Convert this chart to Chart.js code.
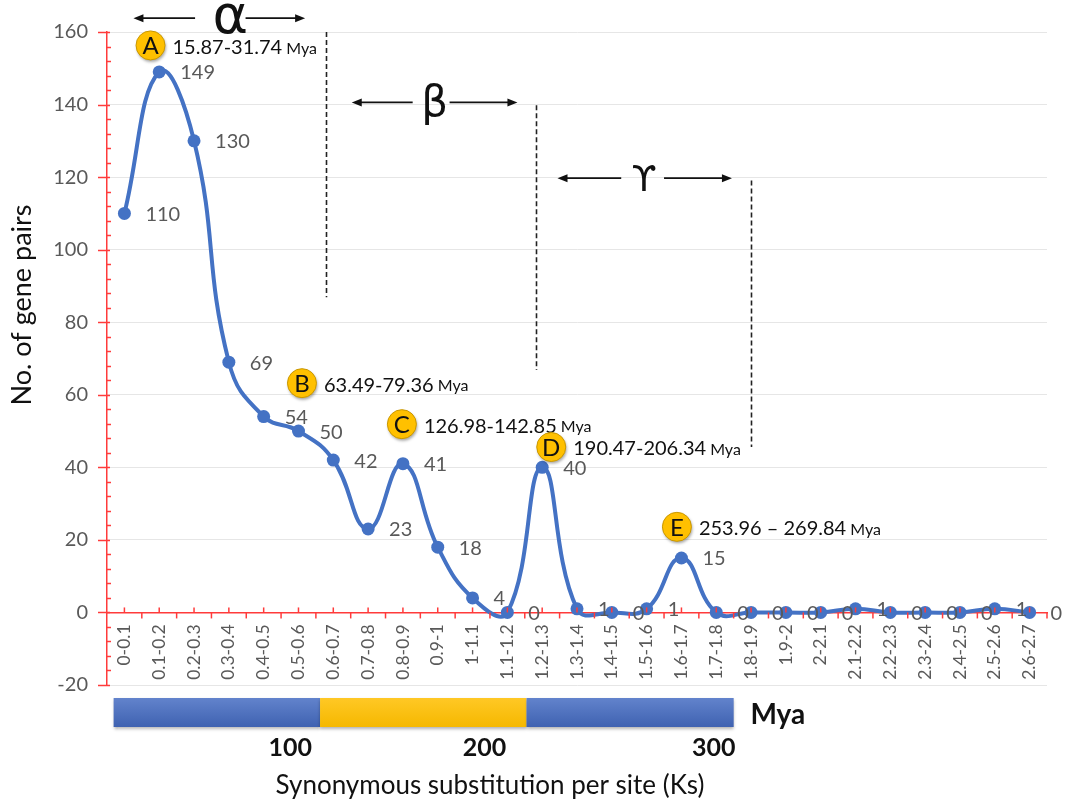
<!DOCTYPE html>
<html>
<head>
<meta charset="utf-8">
<script src="https://cdn.jsdelivr.net/npm/chart.js@4.4.0/dist/chart.umd.min.js"></script>
<style>
  html, body { margin: 0; padding: 0; background: #fff; }
  #wrap { width: 1065px; height: 806px; }
</style>
</head>
<body>
<div id="wrap"><canvas id="grafico"></canvas></div>
<script>
const categorias = ['0-0.1', '0.1-0.2', '0.2-0.3', '0.3-0.4', '0.4-0.5', '0.5-0.6', '0.6-0.7', '0.7-0.8', '0.8-0.9', '0.9-1',
  '1-1.1', '1.1-1.2', '1.2-1.3', '1.3-1.4', '1.4-1.5', '1.5-1.6', '1.6-1.7', '1.7-1.8', '1.8-1.9', '1.9-2',
  '2-2.1', '2.1-2.2', '2.2-2.3', '2.3-2.4', '2.4-2.5', '2.5-2.6', '2.6-2.7'];
const pares = [110, 149, 130, 69, 54, 50, 42, 23, 41, 18, 4, 0, 40, 1, 0, 1, 15, 0, 0, 0, 0, 1, 0, 0, 0, 1, 0];
const yMin = -20, yMax = 160, yStep = 20;

// marcas A-E (posicao em indice de categoria / valor)
const marcas = ['A', 'B', 'C', 'D', 'E'];
const marcaX = [0.75, 5.1, 7.97, 12.26, 15.87];
const marcaY = [156.3, 63.2, 51.9, 45.6, 23.6];
const marcaTexto = ['15.87-31.74', '63.49-79.36', '126.98-142.85', '190.47-206.34', '253.96 \u2013 269.84'];

// eventos de duplicacao
const gregos = ['\u03b1', '\u03b2', '\u03d2'];
const gregoX = [3.04, 8.91, 14.93];
const gregoY = [163.8, 140.6, 119.7];
const setaEsq = [[0.26, 2.03], [6.53, 8.28], [12.44, 14.27]];
const setaDir = [[3.48, 5.19], [9.34, 11.29], [15.5, 17.45]];
const gregoFonte = [54, 42, 36];
const tracoX = [5.79, 11.83, 18.0];
const tracoTopo = [160, 139.8, 119.1];
const tracoBase = [86.9, 66.8, 45.6];

// barra de tempo (Mya)
const barraLimites = [-0.31, 5.62, 11.55, 17.5];
const barraCores = [['#6283cc', '#3f62b1'], ['#ffc825', '#f5b800'], ['#6283cc', '#3f62b1']];
const myaRotulos = ['100', '200', '300'];
const myaX = [4.76, 10.34, 16.93];

const fonte = 'Lato, "Open Sans", sans-serif';

function seta(ctx, x1, x2, y) {
  const dir = x2 > x1 ? 1 : -1;
  ctx.beginPath();
  ctx.moveTo(x1, y);
  ctx.lineTo(x2 - dir * 8, y);
  ctx.stroke();
  ctx.beginPath();
  ctx.moveTo(x2, y);
  ctx.lineTo(x2 - dir * 10, y - 4);
  ctx.lineTo(x2 - dir * 10, y + 4);
  ctx.closePath();
  ctx.fill();
}

const desenho = {
  id: 'desenho',
  afterDatasetsDraw(chart) {
    const ctx = chart.ctx, x = chart.scales.x, y = chart.scales.y;
    const area = chart.chartArea;
    ctx.save();
    // marcas vermelhas do eixo y
    ctx.strokeStyle = '#ff3b3b';
    ctx.lineWidth = 1.5;
    for (let v = yMin; v <= yMax; v += 4) {
      const py = Math.round(y.getPixelForValue(v)) + 0.5;
      ctx.beginPath();
      if (v % 20 === 0) { ctx.moveTo(area.left - 9, py); ctx.lineTo(area.left + 3, py); }
      else { ctx.moveTo(area.left, py); ctx.lineTo(area.left + 4, py); }
      ctx.stroke();
    }
    // marcas do eixo x
    const y0 = y.getPixelForValue(0);
    for (let i = 0; i < categorias.length; i++) {
      const c = x.getPixelForValue(i);
      ctx.beginPath(); ctx.moveTo(c, y0); ctx.lineTo(c, y0 - 5); ctx.stroke();
      const b = x.getPixelForValue(i + 0.5);
      ctx.beginPath(); ctx.moveTo(b, y0); ctx.lineTo(b, y0 + 6); ctx.stroke();
    }
    // rotulos dos pontos
    const meta = chart.getDatasetMeta(0);
    ctx.font = '20px ' + fonte;
    ctx.fillStyle = '#595959';
    ctx.textAlign = 'left';
    ctx.textBaseline = 'middle';
    meta.data.forEach(function (pt, i) {
      ctx.fillText(String(pares[i]), pt.x + 21, pt.y + 1);
    });
    ctx.restore();
  },
  afterDraw(chart) {
    const ctx = chart.ctx, x = chart.scales.x, y = chart.scales.y;
    const area = chart.chartArea;
    ctx.save();

    // linhas tracejadas
    ctx.strokeStyle = '#222';
    ctx.lineWidth = 1.6;
    ctx.setLineDash([5, 3]);
    tracoX.forEach(function (tx, i) {
      const px = Math.round(x.getPixelForValue(tx)) + 0.5;
      ctx.beginPath();
      ctx.moveTo(px, y.getPixelForValue(tracoTopo[i]));
      ctx.lineTo(px, y.getPixelForValue(tracoBase[i]));
      ctx.stroke();
    });
    ctx.setLineDash([]);

    // setas e letras gregas
    ctx.fillStyle = '#111';
    ctx.strokeStyle = '#111';
    ctx.lineWidth = 1.8;
    gregos.forEach(function (g, i) {
      const py = y.getPixelForValue(gregoY[i]);
      seta(ctx, x.getPixelForValue(setaEsq[i][1]), x.getPixelForValue(setaEsq[i][0]), py);
      seta(ctx, x.getPixelForValue(setaDir[i][0]), x.getPixelForValue(setaDir[i][1]), py);
      ctx.font = gregoFonte[i] + 'px "DejaVu Sans", sans-serif';
      ctx.textAlign = 'center';
      ctx.textBaseline = 'middle';
      ctx.fillText(g, x.getPixelForValue(gregoX[i]), py + (i === 0 ? 1 : 3));
    });

    // marcas A-E
    marcas.forEach(function (m, i) {
      const cx = x.getPixelForValue(marcaX[i]);
      const cy = y.getPixelForValue(marcaY[i]);
      ctx.save();
      ctx.shadowColor = 'rgba(0,0,0,0.35)';
      ctx.shadowBlur = 3;
      ctx.shadowOffsetX = 1;
      ctx.shadowOffsetY = 2;
      ctx.beginPath();
      ctx.arc(cx, cy, 14.5, 0, Math.PI * 2);
      ctx.fillStyle = '#ffc000';
      ctx.fill();
      ctx.restore();
      ctx.beginPath();
      ctx.arc(cx, cy, 14.5, 0, Math.PI * 2);
      ctx.strokeStyle = '#c99700';
      ctx.lineWidth = 1;
      ctx.stroke();
      ctx.fillStyle = '#111';
      ctx.font = '24px ' + fonte;
      ctx.textAlign = 'center';
      ctx.textBaseline = 'middle';
      ctx.fillText(m, cx, cy + 1);
      ctx.textAlign = 'left';
      ctx.font = '20px ' + fonte;
      const tx = cx + 22;
      ctx.fillText(marcaTexto[i], tx, cy + 2);
      const w = ctx.measureText(marcaTexto[i]).width;
      ctx.font = '16px ' + fonte;
      ctx.fillText(' Mya', tx + w, cy + 3);
    });

    // barra de tempo
    const bTop = area.bottom + 13, bH = 29;
    for (let i = 0; i < 3; i++) {
      const a = x.getPixelForValue(barraLimites[i]);
      const b = x.getPixelForValue(barraLimites[i + 1]);
      const grad = ctx.createLinearGradient(0, bTop, 0, bTop + bH);
      grad.addColorStop(0, barraCores[i][0]);
      grad.addColorStop(1, barraCores[i][1]);
      ctx.save();
      ctx.shadowColor = 'rgba(0,0,0,0.3)';
      ctx.shadowBlur = 3;
      ctx.shadowOffsetY = 2;
      ctx.fillStyle = grad;
      ctx.fillRect(a, bTop, b - a, bH);
      ctx.restore();
    }
    ctx.fillStyle = '#111';
    ctx.font = 'bold 25px ' + fonte;
    ctx.textAlign = 'center';
    ctx.textBaseline = 'middle';
    myaRotulos.forEach(function (r, i) {
      ctx.fillText(r, x.getPixelForValue(myaX[i]), bTop + bH + 21);
    });
    ctx.font = 'bold 28px ' + fonte;
    ctx.textAlign = 'left';
    ctx.fillText('Mya', x.getPixelForValue(17.98), bTop + bH / 2 + 2);

    // titulos dos eixos
    ctx.font = '26px ' + fonte;
    ctx.fillStyle = '#111';
    ctx.textAlign = 'center';
    ctx.fillText('Synonymous substitution per site (Ks)', 490, 786);
    ctx.save();
    ctx.translate(22, 305);
    ctx.rotate(-Math.PI / 2);
    ctx.font = '27px ' + fonte;
    ctx.fillText('No. of gene pairs', 0, 0);
    ctx.restore();

    ctx.restore();
  }
};

const ctx = document.getElementById('grafico').getContext('2d');
const lineChart = new Chart(ctx, {
  type: 'line',
  data: {
    labels: categorias,
    datasets: [{
      data: pares,
      borderColor: '#4472c4',
      backgroundColor: '#4472c4',
      borderWidth: 4,
      tension: 0.45,
      pointRadius: 6.5,
      pointBorderWidth: 0,
      pointBackgroundColor: '#4472c4',
      clip: false
    }]
  },
  options: {
    responsive: true,
    maintainAspectRatio: false,
    animation: false,
    layout: { padding: { top: 32, right: 18, bottom: 121, left: 0 } },
    plugins: { legend: { display: false }, tooltip: { enabled: false } },
    scales: {
      x: {
        position: { y: 0 },
        offset: true,
        grid: { color: 'transparent', drawTicks: false },
        border: { color: '#ff3b3b', width: 1.5 },
        ticks: {
          autoSkip: false,
          maxRotation: 90,
          minRotation: 90,
          padding: 12,
          color: '#595959',
          font: { family: fonte, size: 17.5 }
        }
      },
      y: {
        min: yMin,
        max: yMax,
        afterFit: function (s) { s.width = 107; },
        grid: { color: '#e6e6e6', drawTicks: false },
        border: { color: '#ff3b3b', width: 1.5 },
        ticks: {
          stepSize: yStep,
          padding: 19,
          color: '#595959',
          font: { family: fonte, size: 20 }
        }
      }
    }
  },
  plugins: [desenho]
});
</script>
</body>
</html>
